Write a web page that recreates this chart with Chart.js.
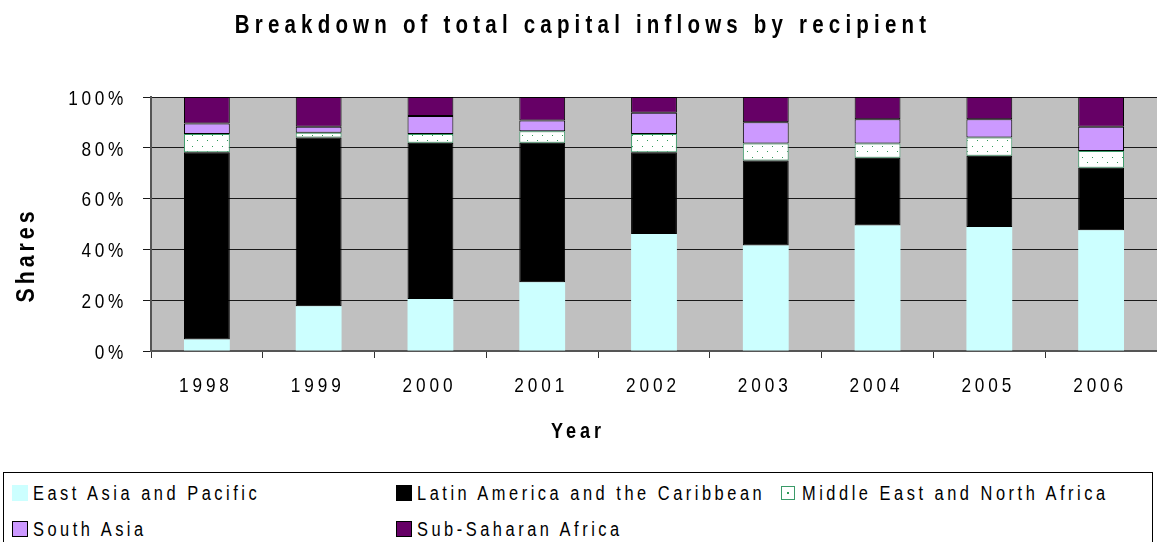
<!DOCTYPE html>
<html lang="en">
<head>
<meta charset="UTF-8">
<title>Breakdown of total capital inflows by recipient</title>
<script src="https://cdn.jsdelivr.net/npm/chart.js@4.4.1/dist/chart.umd.min.js"></script>
<style>
    body {
        margin: 0;
        background: #fff;
        overflow: hidden;
        font-family: 'Liberation Sans', Arial, sans-serif;
    }
    .wrap {
        position: relative;
        width: 1157px;
        height: 542px;
    }
    #chart {
        position: absolute;
        left: 0;
        top: 0;
    }
    #legend {
        position: absolute;
        left: 3px;
        top: 472px;
        width: 1150px;
        height: 90px;
        box-sizing: border-box;
        border: 1px solid #000;
        padding: 2px 0 0 8px;
        display: grid;
        grid-template-columns: 384px 385px 370px;
        grid-auto-rows: 36px;
    }
    .item {
        display: flex;
        align-items: center;
        white-space: nowrap;
        color: #000;
    }
    .swatch {
        width: 16px;
        height: 16px;
        box-sizing: border-box;
        border: 1px solid #000;
        margin-right: 5px;
        flex: none;
    }
    /* condensed look: scale the text horizontally */
    .item .label {
        display: inline-block;
        font-size: 20px;
        letter-spacing: 4.3px;
        transform: scaleX(0.82);
        transform-origin: 0 50%;
    }
</style>
</head>
<body>
<div class="wrap">
    <canvas id="chart" width="1157" height="472"></canvas>
    <div id="legend"></div>
</div>

<script>
    const FONT = "'Liberation Sans', Arial, sans-serif";
    const NARROW = 0.82;

    // shares of total capital inflows (%), by year
    const years = ['1998', '1999', '2000', '2001', '2002', '2003', '2004', '2005', '2006'];
    const eastAsiaPacific       = [4.5, 17.6, 20.5, 27.1, 46.1, 41.5, 49.4, 48.8, 47.5];
    const latinAmericaCaribbean = [73.7, 66.5, 61.5, 54.9, 32.1, 33.5, 26.7, 28.1, 24.6];
    const middleEastNorthAfrica = [7.2, 1.8, 3.4, 4.5, 7.2, 6.7, 5.6, 7.2, 6.6];
    const southAsia             = [4.2, 2.4, 7.1, 4.2, 8.4, 8.4, 9.5, 7.1, 9.6];
    const subSaharanAfrica      = [10.4, 11.7, 7.5, 9.3, 6.2, 9.9, 8.8, 8.8, 11.7];

    const ctx = document.getElementById('chart').getContext('2d');

    // white fill with small green dots for the MENA segment
    function dotPattern() {
        const c = document.createElement('canvas');
        c.width = 10;
        c.height = 11;
        const g = c.getContext('2d');
        g.fillStyle = '#fff';
        g.fillRect(0, 0, 10, 11);
        g.fillStyle = '#2e9b57';
        g.fillRect(2, 3, 1, 1);
        g.fillRect(7, 8, 1, 1);
        return ctx.createPattern(c, 'repeat');
    }

    // draws text squeezed horizontally, spacing given in screen px
    function narrowText(c, text, x, y, align, spacing) {
        c.save();
        c.translate(x, y);
        c.scale(NARROW, 1);
        c.letterSpacing = (spacing / NARROW) + 'px';
        c.textAlign = align;
        c.fillText(text, 0, 0);
        c.restore();
    }

    const plotBackground = {
        id: 'plotBackground',
        beforeDraw(chart) {
            const c = chart.ctx;
            const a = chart.chartArea;
            c.save();
            c.fillStyle = '#c0c0c0';
            c.fillRect(a.left, a.top, a.right - a.left, a.bottom - a.top);
            c.restore();
        }
    };

    // tick labels, axis titles and chart title
    const labels = {
        id: 'labels',
        afterDraw(chart) {
            const c = chart.ctx;
            const xs = chart.scales.x;
            const ys = chart.scales.y;
            c.save();
            c.fillStyle = '#000';
            c.textBaseline = 'middle';

            c.font = '21px ' + FONT;
            ys.ticks.forEach(t => {
                narrowText(c, t.value + '%', 127, ys.getPixelForValue(t.value) + 2, 'right', 3.7);
            });
            chart.data.labels.forEach((lbl, i) => {
                narrowText(c, lbl, xs.getPixelForValue(i) - 1, xs.top + 35, 'center', 3.9);
            });

            c.font = 'bold 25px ' + FONT;
            narrowText(c, 'Breakdown of total capital inflows by recipient', 583, 26, 'center', 5.2);

            c.font = 'bold 22px ' + FONT;
            narrowText(c, 'Year', 578, 432, 'center', 4);

            c.font = 'bold 26px ' + FONT;
            c.translate(27, 257);
            c.rotate(-Math.PI / 2);
            narrowText(c, 'Shares', 2, 0, 'center', 4);
            c.restore();
        }
    };

    const barOpts = {
        barPercentage: 0.41,
        categoryPercentage: 1.0,
        borderWidth: 1,
        borderSkipped: false
    };

    const chart = new Chart(ctx, {
        type: 'bar',
        data: {
            labels: years,
            datasets: [
                { label: 'East Asia and Pacific', data: eastAsiaPacific,
                  backgroundColor: '#ccffff', borderColor: '#ccffff', borderWidth: 0,
                  swatch: { fill: '#ccffff', border: '#ccffff', size: 16 } },
                { label: 'Latin America and the Caribbean', data: latinAmericaCaribbean,
                  backgroundColor: '#000000', borderColor: '#000000',
                  swatch: { fill: '#000000', border: '#000000', size: 16 } },
                { label: 'Middle East and North Africa', data: middleEastNorthAfrica,
                  backgroundColor: dotPattern(), borderColor: '#3a9a68',
                  swatch: { fill: '#fff radial-gradient(circle, #2e9b57 1px, transparent 1.5px)', border: '#3a9a68', size: 14 } },
                { label: 'South Asia', data: southAsia,
                  backgroundColor: '#cc99ff', borderColor: '#000000',
                  swatch: { fill: '#cc99ff', border: '#000000', size: 16 } },
                { label: 'Sub-Saharan Africa', data: subSaharanAfrica,
                  backgroundColor: '#660066', borderColor: '#000000',
                  swatch: { fill: '#660066', border: '#000000', size: 16 } }
            ].map(ds => Object.assign({}, barOpts, ds))
        },
        options: {
            responsive: false,
            animation: false,
            layout: { padding: { top: 97, left: 0, right: 0, bottom: 0 } },
            plugins: {
                legend: { display: false },
                title: { display: false },
                tooltip: { enabled: false }
            },
            scales: {
                x: {
                    stacked: true,
                    offset: true,
                    grid: { offset: true, drawOnChartArea: false, tickLength: 7, color: '#333' },
                    border: { color: '#555', width: 2 },
                    ticks: { display: false, autoSkip: false, maxRotation: 0 },
                    afterFit(scale) { scale.height = 121; }
                },
                y: {
                    stacked: true,
                    min: 0,
                    max: 100,
                    grid: { color: '#1a1a1a', tickLength: 8 },
                    border: { color: '#555', width: 2 },
                    ticks: { display: false, stepSize: 20 },
                    afterFit(scale) { scale.width = 151; }
                }
            }
        },
        plugins: [plotBackground, labels]
    });

    // legend laid out in three columns under the plot
    const legendEl = document.getElementById('legend');
    chart.data.datasets.forEach(ds => {
        const item = document.createElement('div');
        item.className = 'item';
        const box = document.createElement('span');
        box.className = 'swatch';
        box.style.background = ds.swatch.fill;
        box.style.borderColor = ds.swatch.border;
        box.style.width = box.style.height = ds.swatch.size + 'px';
        box.style.marginRight = (21 - ds.swatch.size) + 'px';
        const text = document.createElement('span');
        text.className = 'label';
        text.textContent = ds.label;
        item.appendChild(box);
        item.appendChild(text);
        legendEl.appendChild(item);
    });
</script>
</body>
</html>
